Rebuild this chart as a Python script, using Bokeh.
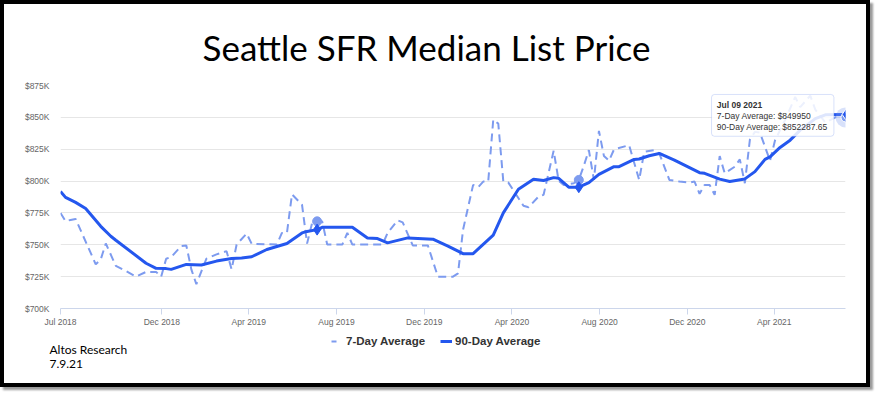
import pandas as pd
from bokeh.plotting import figure
from bokeh.layouts import column
from bokeh.models import Range1d, FixedTicker, Label, Legend, LegendItem, BoxAnnotation, DatetimeTickFormatter
from bokeh.embed import file_html
from bokeh.resources import INLINE

# ---------------- data ----------------
seven_day_dates = [
    "2018-07-13", "2018-07-20", "2018-07-27", "2018-08-03", "2018-08-31", "2018-09-07", "2018-09-14",
    "2018-09-28", "2018-10-12", "2018-10-26", "2018-11-09", "2018-11-23", "2018-11-30", "2018-12-07",
    "2018-12-14", "2018-12-28", "2019-01-04", "2019-01-11", "2019-01-18", "2019-02-01", "2019-02-15",
    "2019-03-01", "2019-03-08", "2019-03-15", "2019-03-29", "2019-04-05", "2019-05-10", "2019-05-17",
    "2019-05-24", "2019-05-31", "2019-06-14", "2019-06-21", "2019-06-28", "2019-07-05", "2019-07-12",
    "2019-07-19", "2019-08-09", "2019-08-16", "2019-08-23", "2019-10-04", "2019-10-11", "2019-10-25",
    "2019-11-01", "2019-11-15", "2019-12-06", "2019-12-20", "2020-01-10", "2020-01-17", "2020-01-24",
    "2020-02-07", "2020-02-14", "2020-02-21", "2020-02-28", "2020-03-06", "2020-03-13", "2020-03-20",
    "2020-03-27", "2020-04-17", "2020-04-24", "2020-05-08", "2020-05-15", "2020-05-29", "2020-06-05",
    "2020-06-12", "2020-06-26", "2020-07-03", "2020-07-10", "2020-07-17", "2020-07-24", "2020-07-31",
    "2020-08-07", "2020-08-14", "2020-08-21", "2020-09-11", "2020-09-25", "2020-10-02", "2020-10-16",
    "2020-10-23", "2020-11-06", "2020-11-20", "2020-12-04", "2020-12-11", "2020-12-18", "2020-12-25",
    "2021-01-01", "2021-01-08", "2021-01-15", "2021-01-22", "2021-02-05", "2021-02-12", "2021-02-19",
    "2021-02-26", "2021-03-05", "2021-03-12", "2021-03-26", "2021-04-02", "2021-04-16", "2021-04-30",
    "2021-05-07", "2021-05-21", "2021-05-28", "2021-06-11", "2021-06-25", "2021-07-09",
]
seven_day_values = [
    775000, 768500, 769500, 770300, 734700, 738600, 751000,
    733400, 729400, 725000, 728700, 728700, 725000, 739100,
    740400, 749000, 749500, 730700, 719100, 739100, 742500,
    745000, 730700, 750200, 758800, 750700, 750200, 759300,
    759300, 789600, 781400, 751000, 767100, 768400, 768400,
    750200, 750200, 759300, 750200, 750200, 759300, 769200,
    767600, 749500, 749500, 725000, 725000, 727600, 761900,
    797000, 795200, 799600, 799600, 848200, 845100, 799600,
    798800, 780600, 779400, 787900, 789200, 823800, 800200,
    797000, 798300, 800900, 812000, 824300, 800900, 839400,
    819600, 816000, 824800, 828200, 800900, 823000, 824300,
    821700, 800900, 799600, 798800, 799600, 790000, 797000,
    797000, 789200, 819600, 806100, 811300, 817000, 798300,
    832600, 838600, 838000, 816000, 832000, 848000, 866000,
    858000, 867000, 856000, 846000, 850000, 849950,
]
ninety_day_dates = [
    "2018-07-13", "2018-07-20", "2018-08-03", "2018-08-17", "2018-09-07", "2018-09-21", "2018-09-28",
    "2018-11-09", "2018-11-23", "2018-12-07", "2018-12-14", "2019-01-04", "2019-01-25", "2019-02-15",
    "2019-03-08", "2019-03-22", "2019-04-05", "2019-04-26", "2019-05-24", "2019-06-14", "2019-06-21",
    "2019-07-05", "2019-07-12", "2019-08-23", "2019-09-13", "2019-09-27", "2019-10-11", "2019-11-08",
    "2019-12-13", "2020-01-03", "2020-01-24", "2020-02-07", "2020-03-06", "2020-03-20", "2020-04-10",
    "2020-05-01", "2020-05-15", "2020-05-29", "2020-06-05", "2020-06-19", "2020-07-03", "2020-07-17",
    "2020-07-31", "2020-08-21", "2020-08-28", "2020-09-18", "2020-09-25", "2020-10-09", "2020-10-23",
    "2020-11-13", "2020-12-18", "2020-12-25", "2021-01-15", "2021-01-29", "2021-02-19", "2021-03-05",
    "2021-03-19", "2021-03-26", "2021-04-09", "2021-04-23", "2021-05-07", "2021-05-28", "2021-06-11",
    "2021-07-09",
]
ninety_day_values = [
    791800, 787200, 783300, 778500, 764500, 756700, 753600,
    735500, 731500, 731300, 730700, 734600, 734100, 737200,
    739300, 739600, 740600, 746300, 751000, 759300, 760500,
    761900, 763700, 763700, 755400, 754900, 751500, 755400,
    754400, 748900, 743000, 743000, 757500, 775000, 793600,
    801500, 800400, 802700, 802200, 795200, 795200, 798800,
    805300, 811300, 811300, 817000, 817300, 819900, 821700,
    816500, 806600, 806100, 801500, 799600, 801700, 807400,
    817000, 819000, 826400, 832100, 840000, 849000, 852000,
    852287.65,
]
# highlighted points (Highcharts markers)
marker_dates = ["2019-07-05", "2020-07-03"]
marker_seven = [768400, 800900]
marker_ninety = [761900, 795200]
hover_date = "2021-07-09"
hover_seven = 849950
hover_ninety = 852287.65

y_ticks = [700000, 725000, 750000, 775000, 800000, 825000, 850000, 875000]
y_tick_labels = ["$700K", "$725K", "$750K", "$775K", "$800K", "$825K", "$850K", "$875K"]
x_tick_dates = ["2018-07-13", "2018-12-01", "2019-04-01", "2019-08-01", "2019-12-01",
                "2020-04-01", "2020-08-01", "2020-12-01", "2021-04-01"]
x_tick_labels = ["Jul 2018", "Dec 2018", "Apr 2019", "Aug 2019", "Dec 2019",
                 "Apr 2020", "Aug 2020", "Dec 2020", "Apr 2021"]

title_text = "Seattle SFR Median List Price"
source_lines = ["Altos Research", "7.9.21"]
series_names = ["7-Day Average", "90-Day Average"]
tooltip_lines = ["Jul 09 2021", "7-Day Average: $849950", "90-Day Average: $852287.65"]

# ---------------- helpers ----------------
def ms(d):
    return pd.Timestamp(d).value // 10**6

X0 = ms("2018-07-13")
X1 = ms("2021-07-09")
Y0, Y1 = 700000, 875000

# picture-pixel geometry
BORDER = 4
W = 862                                  # inner width (inside the black frame)
TOP_H, MAIN_H, BOT_H = 71, 254, 54       # stacked panels (sum = 379)
FL, FR, FT, FB = 60.0, 844.6, 85.0, 309.0   # plot area in picture pixels
MAIN_TOP = BORDER + TOP_H
BOT_TOP = MAIN_TOP + MAIN_H
BOT_BOTTOM = BOT_TOP + BOT_H

def px_x(px):
    return X0 + (px - FL) / (FR - FL) * (X1 - X0)

def px_y(py):
    return Y0 + (FB - py) / (FB - FT) * (Y1 - Y0)

DARK = "#2457ee"
LIGHT = "#7d9bef"
AXIS_FONT = "Liberation Sans"
DASH = "8 5"


def blank(y_top, y_bottom):
    # panel whose data units are picture pixels
    f = figure(width=W, height=int(y_bottom - y_top), output_backend="svg", toolbar_location=None,
               y_range=Range1d(y_bottom, y_top),
               x_axis_location=None, y_axis_location=None, min_border=0,
               background_fill_color="white", border_fill_color="white")
    try:
        f.frame_align = False          # own frame = whole panel
        f.x_range = Range1d(BORDER, BORDER + W)
    except Exception:
        f.x_range = Range1d(FL, FR)    # frame aligned with the main plot frame
    f.outline_line_color = None
    f.xgrid.visible = False
    f.ygrid.visible = False
    return f

# ---- title panel ----
top = blank(BORDER, MAIN_TOP)
top.add_layout(Label(x=426, y=46.5, text=title_text, text_font="Lato",
                     text_font_size="35px", text_color="black", text_align="center",
                     text_baseline="middle"))

# ---- main chart ----
p = figure(width=W, height=MAIN_H, output_backend="svg", toolbar_location=None,
           x_axis_type="datetime",
           x_range=Range1d(X0, X1), y_range=Range1d(Y0, Y1),
           min_border_left=int(round(FL - BORDER)), min_border_right=int(round(BORDER + W - FR)),
           min_border_top=int(round(FT - MAIN_TOP)), min_border_bottom=int(round(BOT_TOP - FB)),
           background_fill_color="white", border_fill_color="white")
p.outline_line_color = None

p.yaxis.ticker = FixedTicker(ticks=y_ticks)
p.yaxis.major_label_overrides = {t: l for t, l in zip(y_ticks, y_tick_labels)}
p.yaxis.axis_line_color = None
p.yaxis.major_tick_line_color = None
p.yaxis.minor_tick_line_color = None
p.yaxis.major_label_text_font = AXIS_FONT
p.yaxis.major_label_text_font_size = "8.5px"
p.yaxis.major_label_text_color = "#666666"
p.yaxis.major_label_standoff = 5

xt = [ms(d) for d in x_tick_dates]
p.xaxis.ticker = FixedTicker(ticks=xt)
p.xaxis.formatter = DatetimeTickFormatter(days="%b %Y", months="%b %Y", years="%b %Y")
p.xaxis.major_label_overrides = {t: l for t, l in zip(xt, x_tick_labels)}
p.xaxis.axis_line_color = "#ccd6eb"
p.xaxis.major_tick_line_color = "#ccd6eb"
p.xaxis.major_tick_out = 6
p.xaxis.major_tick_in = 0
p.xaxis.minor_tick_line_color = None
p.xaxis.major_label_text_font = AXIS_FONT
p.xaxis.major_label_text_font_size = "8.5px"
p.xaxis.major_label_text_color = "#666666"
p.xaxis.major_label_standoff = 2

p.xgrid.grid_line_color = None
p.ygrid.grid_line_color = "#e6e6e6"
p.ygrid.ticker = FixedTicker(ticks=y_ticks)

sd = [pd.Timestamp(d) for d in seven_day_dates]
nd = [pd.Timestamp(d) for d in ninety_day_dates]
p.line(sd, seven_day_values, line_color=LIGHT, line_width=2, line_dash=DASH)
p.line(nd, ninety_day_values, line_color=DARK, line_width=3)

md = [pd.Timestamp(d) for d in marker_dates]
p.scatter(md, marker_seven, marker="circle", size=9, fill_color=LIGHT, line_color=LIGHT)
p.scatter(md, marker_ninety, marker="diamond", size=11, fill_color=DARK, line_color=DARK)

hd = [pd.Timestamp(hover_date)]
p.scatter(hd, [hover_seven], marker="circle", size=20, fill_color=LIGHT, fill_alpha=0.3, line_color=None)
p.scatter(hd, [hover_seven], marker="circle", size=9, fill_color=LIGHT, line_color="white", line_width=1)
p.scatter(hd, [hover_ninety], marker="diamond", size=10, fill_color=DARK, line_color="white", line_width=1)

# tooltip
p.add_layout(BoxAnnotation(left=px_x(710.7), right=px_x(833), top=px_y(94), bottom=px_y(136),
                           fill_color="white", fill_alpha=0.85, line_color=LIGHT, line_width=1,
                           border_radius=3))
for i, t in enumerate(tooltip_lines):
    p.add_layout(Label(x=px_x(716), y=px_y(104.5 + 11 * i), text=t, text_font=AXIS_FONT,
                       text_font_size="8.5px", text_font_style="bold" if i == 0 else "normal",
                       text_color="#333333", text_baseline="middle"))

# ---- bottom panel: legend + source ----
bot = blank(BOT_TOP, BOT_BOTTOM)
x_left = bot.x_range.start
# legend sample glyphs (single vertex: nothing is drawn in the panel itself)
g7 = bot.line([x_left], [BOT_TOP], line_color=LIGHT, line_width=2, line_dash="5 7")
g90 = bot.line([x_left], [BOT_TOP], line_color=DARK, line_width=3)
legend = Legend(items=[LegendItem(label=series_names[0], renderers=[g7]),
                       LegendItem(label=series_names[1], renderers=[g90])],
                orientation="horizontal", location=(int(331 - x_left), int(BOT_BOTTOM - 348)),
                label_text_font=AXIS_FONT, label_text_font_size="11.5px",
                label_text_font_style="bold", label_text_color="#333333",
                label_height=14, glyph_width=12, glyph_height=10, label_standoff=3, spacing=15,
                border_line_color=None, background_fill_alpha=0, margin=0, padding=0)
bot.add_layout(legend, "center")
for i, t in enumerate(source_lines):
    bot.add_layout(Label(x=49, y=349 + 14.5 * i, text=t, text_font="Lato",
                         text_font_size="12px", text_color="black", text_align="left",
                         text_baseline="middle"))

layout = column(top, p, bot, spacing=0,
                styles={"border": "4px solid black", "box-shadow": "3px 3px 2px #9a9a9a",
                        "background-color": "white"})

open("out.html", "w").write(file_html(layout, INLINE))
